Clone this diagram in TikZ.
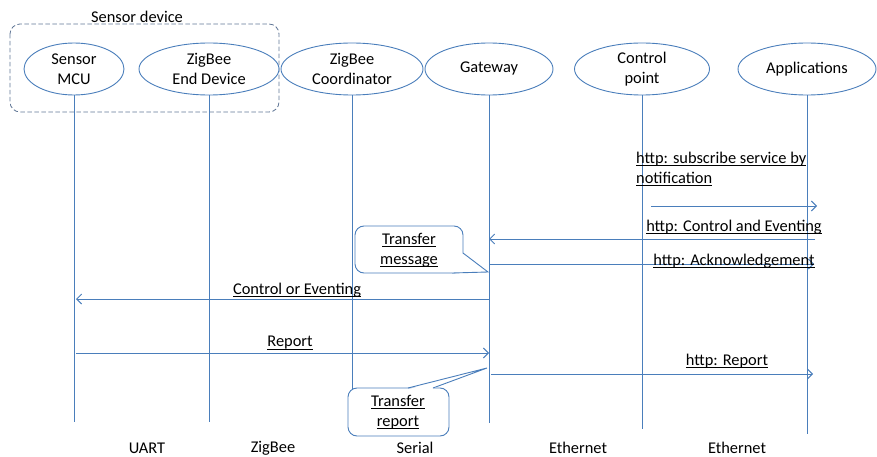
\documentclass[tikz,border=0pt]{standalone}
\usepackage{fontspec}
\setmainfont{Carlito}
\usetikzlibrary{shapes.geometric,arrows.meta}
\definecolor{lineblue}{RGB}{74,126,187}
\definecolor{groupgray}{RGB}{96,118,150}
% underlined text with a fixed rule below the baseline
\newcommand\uln[1]{\setbox0\hbox{#1}\rlap{\rule[-2.6pt]{\wd0}{0.9pt}}\box0}

\begin{document}
\begin{tikzpicture}[x=1pt,y=-1pt,
  every node/.style={font=\fontsize{16.4}{19.8}\selectfont, inner sep=0pt},
  actor/.style={ellipse, draw=lineblue, line width=0.9pt, fill=white,
    align=center, minimum height=52pt},
  life/.style={draw=lineblue, line width=0.9pt},
  msg/.style={draw=lineblue, line width=0.9pt,
    -{Straight Barb[length=5pt,width=10pt]}},
  callout/.style={draw=lineblue, line width=0.9pt, fill=white},
  group/.style={draw=groupgray, line width=0.8pt, dash pattern=on 4.5pt off 2.5pt,
    rounded corners=10pt},
  lbl/.style={align=center},
  txt/.style={align=left}
]
\useasboundingbox (0,0) rectangle (877,457);

% sensor device group
\draw[group] (10,24) rectangle (279,112);
\node[lbl] (grp) at (137,17) {Sensor device};

% participants
\node[actor, minimum width=100pt] (mcu)  at (74,69)  {Sensor\\MCU};
\node[actor, minimum width=140pt] (zed)  at (209,69) {ZigBee\\End Device};
\node[actor, minimum width=142pt] (zc)   at (352,69) {ZigBee\\Coordinator};
\node[actor, minimum width=128pt] (gw)   at (489,69) {Gateway};
\node[actor, minimum width=135pt] (cp)   at (642,69) {Control\\point};
\node[actor, minimum width=138pt] (app)  at (807,69) {Applications};

% lifeline ends
\coordinate (mcuE) at (74,422);
\coordinate (zedE) at (209,422);
\coordinate (zcE)  at (352,430);
\coordinate (gwE)  at (489,423);
\coordinate (cpE)  at (642,429);
\coordinate (appE) at (807,434);

\draw[life] (mcu.south) -- (mcuE);
\draw[life] (zed.south) -- (zedE);
\draw[life] (zc.south)  -- (zcE);
\draw[life] (gw.south)  -- (gwE);
\draw[life] (cp.south)  -- (cpE);
\draw[life] (app.south) -- (appE);

% message end points
\coordinate (subA) at (651,206);  \coordinate (subB) at (817,206);
\coordinate (ceA)  at (815,239);  \coordinate (ceB)  at (489,239);
\coordinate (ackA) at (489,264);  \coordinate (ackB) at (814,264);
\coordinate (coeA) at (489,299);  \coordinate (coeB) at (76,299);
\coordinate (repA) at (76,353);   \coordinate (repB) at (489,353);
\coordinate (hrA)  at (491,374);  \coordinate (hrB)  at (813,374);

% messages
\draw[msg] (subA) -- (subB);
\draw[msg] (ceA) -- (ceB);
\draw[msg] (ackA) -- (ackB);
\draw[msg] (coeA) -- (coeB);
\draw[msg] (repA) -- (repB);
\draw[msg] (hrA) -- (hrB);

% message labels
\node[txt, anchor=north west] (subL) at (636,152)
  {\uln{http: subscribe service by}\\\uln{notification}};
\node[lbl] (ceL)  at (734,227) {\uln{http: Control and Eventing}};
\node[lbl] (ackL) at (734,261) {\uln{http: Acknowledgement}};
\node[lbl] (coeL) at (297,290) {\uln{Control or Eventing}};
\node[lbl] (repL) at (290,343) {\uln{Report}};
\node[lbl] (hrL)  at (727,361) {\uln{http: Report}};

% callout: transfer message (box, then pointer laid over its corner)
\draw[callout, rounded corners=9pt] (355,226) rectangle (463,273);
\fill[white] (462,253) -- (488,272) -- (452,273) -- (452,270) -- (462,265) -- cycle;
\draw[draw=lineblue, line width=0.9pt, line join=miter]
  (463,253) -- (488,272) -- (452,273);
\node[lbl] (tm) at (409,250) {\uln{Transfer}\\\uln{message}};

% callout: transfer report (box, then pointer on its top edge)
\draw[callout, rounded corners=9pt] (348,388) rectangle (449,436);
\fill[white] (409,389) -- (487,368) -- (432,389) -- cycle;
\draw[draw=lineblue, line width=0.9pt, line join=miter]
  (408,388) -- (487,368) -- (433,388);
\node[lbl] (tr) at (398,412) {\uln{Transfer}\\\uln{report}};

% link types
\node (l1) at (147,448) {UART};
\node (l2) at (273,448) {ZigBee};
\node (l3) at (415,448) {Serial};
\node (l4) at (578,448) {Ethernet};
\node (l5) at (737,448) {Ethernet};
\end{tikzpicture}
\end{document}
